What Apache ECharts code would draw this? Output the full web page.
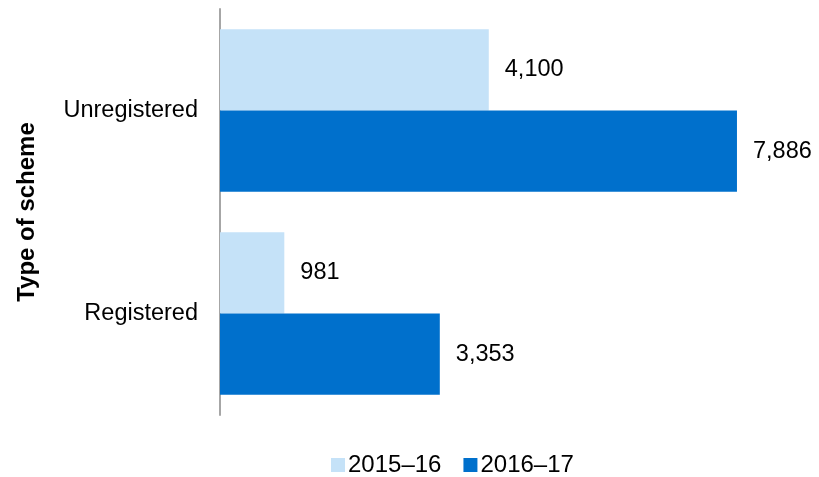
<!DOCTYPE html>
<html>
<head>
<meta charset="utf-8">
<script src="https://cdn.jsdelivr.net/npm/echarts@6/dist/echarts.min.js"></script>
<style>
  html, body { margin: 0; padding: 0; background: #ffffff; }
  #chart { width: 819px; height: 477px; }
</style>
</head>
<body>
<div id="chart"></div>
<script>
// Scheme types, top to bottom
const categories = ['Unregistered', 'Registered'];
const seriesNames = ['2015\u201316', '2016\u201317'];
const values2015 = [4100, 981];
const values2016 = [7886, 3353];

const colors = ['#C5E2F8', '#0070CC'];
const fontFamily = 'Liberation Sans, Arial, sans-serif';

const chart = echarts.init(document.getElementById('chart'));

const labelStyle = {
  show: true,
  position: 'right',
  distance: 16,
  color: '#000000',
  fontSize: 23.5,
  fontFamily: fontFamily,
  formatter: p => p.value.toLocaleString('en-US')
};

chart.setOption({
  animation: false,
  grid: {
    left: 220, right: 9, top: 9, bottom: 62,
    containLabel: false,
    outerBoundsMode: 'none'
  },
  legend: {
    bottom: 0,
    left: 331,
    padding: 0,
    itemWidth: 14,
    itemHeight: 14,
    itemGap: 22,
    icon: 'rect',
    textStyle: { fontSize: 24, fontFamily: fontFamily, color: '#000000', padding: [0, 0, 0, -2] },
    data: seriesNames
  },
  xAxis: {
    type: 'value',
    min: 0,
    max: 9000,
    show: false
  },
  yAxis: {
    type: 'category',
    inverse: true,
    data: categories,
    name: 'Type of scheme',
    nameLocation: 'middle',
    nameGap: 181,
    nameRotate: 90,
    nameTextStyle: { fontSize: 24, fontWeight: 'bold', fontFamily: fontFamily, color: '#000000' },
    axisLine: { show: true, lineStyle: { color: '#A6A6A6', width: 2 } },
    axisTick: { show: false },
    axisLabel: { fontSize: 23.5, fontFamily: fontFamily, color: '#000000', margin: 22 }
  },
  series: [
    {
      name: seriesNames[0],
      type: 'bar',
      data: values2015,
      barGap: '0%',
      barCategoryGap: '20%',
      itemStyle: { color: colors[0] },
      label: labelStyle
    },
    {
      name: seriesNames[1],
      type: 'bar',
      data: values2016,
      barGap: '0%',
      barCategoryGap: '20%',
      itemStyle: { color: colors[1] },
      label: labelStyle
    }
  ]
});
</script>
</body>
</html>
